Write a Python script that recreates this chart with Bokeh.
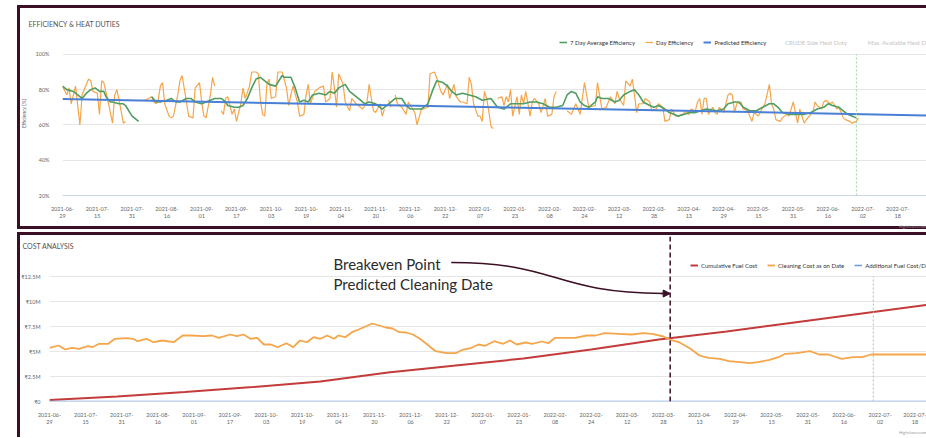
import pandas as pd
from bokeh.plotting import figure
from bokeh.layouts import column
from bokeh.models import (Range1d, FixedTicker, CustomJSTickFormatter, Legend, LegendItem,
                          Label, Title, Span, Arrow, NormalHead)
from bokeh.embed import file_html
from bokeh.resources import INLINE

# ---------------- data ----------------
START = "2021-06-29"
BREAKEVEN = "2022-03-31"
FORECAST = "2022-06-29"
TICK_DATES = ["2021-06-29", "2021-07-15", "2021-07-31", "2021-08-16", "2021-09-01",
              "2021-09-17", "2021-10-03", "2021-10-19", "2021-11-04", "2021-11-20",
              "2021-12-06", "2021-12-22", "2022-01-07", "2022-01-23", "2022-02-08",
              "2022-02-24", "2022-03-12", "2022-03-28", "2022-04-13", "2022-04-29",
              "2022-05-15", "2022-05-31", "2022-06-16", "2022-07-02", "2022-07-18"]
NAN = float("nan")

# day efficiency (days after START, %)
EFF_DAY = [0, 2, 3, 4, 6, 8, 9, 12, 13, 14, 16, 17, 18, 19, 21, 22, 23, 24, 25, 26, 28, 29, 33,
           37, 38, 41, 42, 43, 44, 45, 46, 47, 49, 50, 51, 53, 54, 55, 57, 58, 60, 61, 63, 64, 65,
           66, 68, 69, 70, 71, 73, 74, 75, 76, 78, 79, 80, 82, 83, 84, 86, 87, 89, 90, 91, 92, 93,
           94, 95, 96, 98, 99, 101, 103, 104, 105, 106, 108, 109, 111, 112, 113, 114, 116, 118,
           120, 121, 123, 124, 125, 126, 127, 129, 130, 132, 133, 135, 137, 138, 140, 141, 142,
           143, 144, 146, 147, 148, 149, 150, 151, 152, 153, 154, 156, 158, 159, 161, 162, 163,
           165, 166, 168, 169, 171, 172, 174, 175, 177, 178, 180, 181, 183, 184, 186, 187, 188,
           189, 191, 192, 193, 194, 195, 196, 197, 198, 199, 200, 202, 203, 204, 205, 206, 207,
           209, 210, 211, 212, 213, 215, 216, 217, 219, 220, 222, 223, 225, 226, 227, 229, 232,
           234, 236, 238, 240, 242, 245, 246, 248, 250, 251, 252, 254, 255, 256, 258, 259, 261,
           262, 263, 264, 265, 267, 268, 270, 271, 273, 274, 276, 277, 279, 280, 282, 283, 285,
           286, 288, 289, 291, 292, 293, 294, 295, 296, 297, 299, 300, 301, 302, 304, 306, 307,
           308, 309, 310, 312, 313, 315, 316, 317, 318, 320, 322, 323, 325, 326, 327, 328, 330,
           331, 333, 334, 336, 337, 338, 339, 341, 342, 344, 345, 346, 347, 349, 350, 351, 353,
           354, 356, 357, 359, 360, 362, 363, 365, 366]
EFF_PCT = [82, 77, 81, 72, 82, 60, 77, 86, 85, 79, 78, 66, 85, 84, 73, 67, 61, 77, 80, 74, 61, 62, NAN,
           74, 74, 76, 73, 72, 74, 82, 84, 72, 65, 64, 65, 77, 85, 88, 73, 65, 64, 81, 84, 73, 65,
           64, 77, 87, 82, NAN, 68, 66, 75, 76, 66, 69, 62, 72, 81, 75, 82, 90, 90, 89, 74, 66, 65,
           83, 86, 75, 76, 90, 90, 81, 71, 77, 82, 73, 65, 66, 77, 83, 72, 79, 81,
           82, 73, 75, 90, 81, 70, 89, 83, 73, 68, 75, 72, 70, 69, 73, 83, 75,
           68, 67, 72, 65, 69, NAN, 74, 70, NAN, 77, 72, 70, 66, 73, 69, 67, 60,
           69, 69, 70, 89, 90, 87, 79, 77, 83, 75, 83, 76, 73, 73, 72, 87, 83,
           72, 65, 65, 62, 79, 75, 68, 59, 58, NAN, 75, 76, 71, 76, 73, 80, 65,
           76, 66, 77, 72, 79, 65, 73, 75, 72, 67, 75, 65, 66, 76, 79, NAN, 68,
           66, 72, 66, 84, 70, 71, 84, 69, 70, 73, 76, 72, 79, 75, 71, 85, 82,
           86, 77, 67, 72, 72, 75, 73, 68, 69, 72, 70, 62, 63, 69, 65, 65, 66,
           67, 66, 69, 68, 73, 75, 66, 75, 75, 66, 70, 67, 66, 70, 67, 77, 78,
           77, 67, 72, 73, 69, 68, 65, 62, 67, 65, 70, 72, 83, 72, 69, 63, 62,
           64, 66, 65, 73, 67, 61, 69, 61, 63, 66, 67, 73, 71, 69, 73, 74, 72,
           73, 69, 70, 64, 63, 62, 61, 62, 64]

# 7 day average efficiency
AVG_DAY = [0, 2, 5, 7, 9, 11, 13, 15, 17, 19, 20, 22, 23, 26, 28, 29, 31, 32, 35, 38,
           41, 43, 45, 48, 50, 52, 54, 57, 59, 61, 64, 66, 68, 70, 73, 75, 76, 79, 81, 83, 85,
           87, 89, 91, 92, 95, 98, 101, 102, 105, 107, 109, 111, 113, 115, 118, 121, 123, 125,
           127, 130, 132, 134, 137, 139, 141, 144, 147, 150, 153, 156, 158, 160, 162, 165, 168,
           170, 172, 175, 177, 179, 181, 184, 187, 190, 193, 197, 200, 203, 206, 209, 212, 215,
           218, 221, 224, 227, 230, 232, 234, 236, 238, 240, 242, 245, 246, 248, 251, 254, 256,
           258, 261, 263, 265, 267, 270, 272, 274, 277, 279, 281, 283, 286, 288, 291, 296, 301,
           304, 306, 309, 311, 313, 316, 319, 322, 325, 327, 329, 331, 334, 337, 341, 344, 347,
           350, 352, 354, 357, 359, 361, 363, 365]
AVG_PCT = [82, 80, 79, 77, 75, 78, 80, 81, 79, 79, 76, 73, 73, 72, 72, 71, 67, 65, 62, NAN,
           76, 73, 73, 74, 75, 73, 73, 75, 75, 73, 72, 73, 74, 75, 75, 73, 71, 70, 70, 71, 75,
           81, 86, 87, 86, 83, 82, 88, 87, 87, 81, 73, 74, 73, 77, 78, 77, 79, 78,
           81, 83, 79, 77, 74, 72, 73, 72, 69, 72, 75, 75, 71, 69, 69, 69, 72,
           79, 85, 84, 82, 79, 77, 78, 77, 76, 74, 75, 70, 69, 72, 72, 72, 73,
           73, 72, 70, 70, 71, 77, 79, 78, 73, 71, 70, 73, 76, 75, 75, 73, 74,
           77, 79, 80, 77, 73, 71, 70, 71, 69, 67, 66, 65, 66, 67, 67, 69, 68,
           69, 72, 73, 73, 70, 68, 68, 70, 72, 72, 70, 67, 66, 66, 66, 67, 69,
           70, 72, 71, 70, 68, 66, 65, 64]

PRED_DAY = [0, 400]
PRED_PCT = [74.7, 65.3]

# cost analysis (millions of rupees)
CLEAN_DAY = [0, 4, 7, 10, 13, 17, 19, 22, 26, 29, 34, 37, 39, 43, 46, 50, 55, 59, 63, 68, 72,
             75, 80, 83, 86, 89, 92, 95, 98, 101, 105, 108, 111, 114, 117, 120, 123, 126, 128,
             131, 134, 137, 140, 143, 146, 149, 152, 155, 158, 161, 164, 167, 171, 176, 180,
             183, 187, 190, 193, 197, 201, 204, 207, 211, 214, 218, 221, 224, 227, 233, 238,
             242, 246, 252, 258, 263, 267, 272, 275, 279, 284, 288, 292, 297, 301, 306, 310,
             314, 319, 323, 326, 331, 337, 341, 345, 351, 356, 360, 364, 395]
CLEAN_M = [5.37, 5.6, 5.2, 5.37, 5.27, 5.53, 5.43, 5.77, 5.77, 6.27, 6.33, 6.27, 6.03, 6.27,
           5.93, 6.1, 5.93, 6.6, 6.6, 6.53, 6.6, 6.37, 6.7, 6.53, 6.7, 6.27, 6.37, 5.7, 5.7,
           5.43, 5.83, 5.43, 6.1, 5.93, 6.43, 6.27, 6.6, 6.27, 6.6, 6.43, 6.93, 7.2, 7.5, 7.8,
           7.6, 7.4, 7.3, 6.93, 6.9, 6.7, 6.3, 5.77, 5.03, 4.83, 4.83, 5.17, 5.37, 5.7, 5.57,
           6.03, 5.77, 6.1, 5.7, 5.9, 5.77, 6.0, 5.83, 6.37, 6.37, 6.37, 6.6, 6.6, 6.83, 6.77,
           6.7, 6.83, 6.77, 6.5, 6.17, 5.93, 5.27, 4.6, 4.37, 4.27, 4.03, 3.93, 3.83, 3.93,
           4.17, 4.43, 4.77, 4.83, 5.03, 4.7, 4.7, 4.27, 4.43, 4.43, 4.7, 4.7]
FUEL_DAY = [0, 30, 60, 90, 120, 150, 180, 210, 240, 270, 300, 330, 360, 395]
FUEL_M = [0.15, 0.5, 0.95, 1.45, 2.0, 2.9, 3.6, 4.3, 5.2, 6.2, 7.0, 7.9, 8.8, 9.85]
ADD_DAY = [0, 395]
ADD_M = [0, 0]

EFF_TICKS = [20, 40, 60, 80, 100]
COST_TICKS = [0, 2.5, 5, 7.5, 10, 12.5]

# ---------------- helpers ----------------
T0 = pd.Timestamp(START)
DAY_MS = 86400000


def ms_day(d):
    return (T0 + pd.Timedelta(days=d)).value / 1e6


def ms_date(s):
    return pd.Timestamp(s).value / 1e6


MAROON = "#3b0f25"
GREEN = "#4f9d62"
ORANGE = "#f5a54a"
BLUE = "#4a7fd6"
RED = "#c43b3b"
HIDDEN = "#cfcfcf"
FONT = "Lato"
SH = "inset 3px 0 0 0 {c}, inset 0 3px 0 0 {c}".format(c=MAROON)

date_fmt = CustomJSTickFormatter(code="""
    const s = new Date(tick).toISOString().slice(0, 10);
    return s.slice(0, 8) + "\\n" + s.slice(8);
""")


def style(p, title):
    p.border_fill_color = None
    p.background_fill_color = None
    p.outline_line_color = None
    p.xgrid.grid_line_color = None
    p.ygrid.grid_line_color = "#e6e6e6"
    p.xaxis.ticker = FixedTicker(ticks=[ms_date(s) for s in TICK_DATES])
    p.xaxis.formatter = date_fmt
    p.xaxis.axis_line_color = "#ccd6eb"
    p.xaxis.major_tick_line_color = None
    p.xaxis.minor_tick_line_color = None
    p.xaxis.major_label_text_font_size = "5.5px"
    p.xaxis.major_label_text_color = "#666666"
    p.xaxis.major_label_text_font = FONT
    p.xaxis.major_label_standoff = 4
    p.yaxis.axis_line_color = None
    p.yaxis.major_tick_line_color = None
    p.yaxis.minor_tick_line_color = None
    p.yaxis.major_label_text_font_size = "5.5px"
    p.yaxis.major_label_text_color = "#666666"
    p.yaxis.major_label_text_font = FONT
    p.yaxis.major_label_standoff = 7
    p.title.text = title
    p.title.align = "left"
    p.title.text_font_size = "7px"
    p.title.text_font_style = "normal"
    p.title.text_color = "#555555"
    p.title.text_font = FONT
    p.add_layout(Title(text="Highcharts.com", align="right", text_font_size="4px",
                       text_font_style="normal", text_color="#999999", text_font=FONT,
                       standoff=1), "below")


def make_legend(items, x, y, color="#333333"):
    return Legend(items=items, location=(x, y), orientation="horizontal", spacing=10,
                  padding=0, margin=0, glyph_width=8, glyph_height=6, label_standoff=3,
                  label_height=8, label_text_font_size="6px", label_text_font=FONT,
                  label_text_color=color, background_fill_alpha=0, border_line_color=None)


# ---------------- top chart ----------------
W = 909
p1 = figure(width=W, height=224, output_backend="svg", toolbar_location=None,
            x_axis_type="datetime", min_border_left=39, min_border_right=0,
            min_border_top=26, min_border_bottom=33, margin=(5, 0, 0, 17), frame_align=False,
            styles={"box-shadow": SH + ", inset 0 -3px 0 0 " + MAROON},
            x_range=Range1d(ms_day(0), ms_day(870 / 2.19)),
            y_range=Range1d(20, 100 + 23 / 1.775))
style(p1, "EFFICIENCY & HEAT DUTIES")
p1.title.offset = -34
p1.title.standoff = 7
p1.yaxis.ticker = FixedTicker(ticks=EFF_TICKS)
p1.yaxis.formatter = CustomJSTickFormatter(code="return tick + '%';")
p1.yaxis.axis_label = "Efficiency (%)"
p1.yaxis.axis_label_text_font_size = "5px"
p1.yaxis.axis_label_text_font_style = "normal"
p1.yaxis.axis_label_text_color = "#666666"
p1.yaxis.axis_label_text_font = FONT
p1.yaxis.axis_label_standoff = 6

r_eff = p1.line([ms_day(d) for d in EFF_DAY], EFF_PCT, color=ORANGE, line_width=1.2)
r_avg = p1.line([ms_day(d) for d in AVG_DAY], AVG_PCT, color=GREEN, line_width=1.6)
r_pred = p1.line([ms_day(d) for d in PRED_DAY], PRED_PCT, color=BLUE, line_width=2)
r_crude = p1.line([], [], color=HIDDEN, line_width=1.5)
r_maxh = p1.line([], [], color=HIDDEN, line_width=1.5)
fx = ms_date(FORECAST)
p1.segment(x0=[fx], y0=[EFF_TICKS[0]], x1=[fx], y1=[EFF_TICKS[-1]], line_color="#8fd88f",
           line_dash="2 2", line_width=1)

p1.add_layout(make_legend([LegendItem(label="7 Day Average Efficiency", renderers=[r_avg]),
                           LegendItem(label="Day Efficiency", renderers=[r_eff]),
                           LegendItem(label="Predicted Efficiency", renderers=[r_pred])],
                          497, 149), "center")
p1.add_layout(make_legend([LegendItem(label="CRUDE Side Heat Duty", renderers=[r_crude]),
                           LegendItem(label="Max. Available Heat Duty", renderers=[r_maxh])],
                          712, 149, color="#c4c4c4"), "center")

# ---------------- bottom chart ----------------
p2 = figure(width=W, height=205, output_backend="svg", toolbar_location=None,
            x_axis_type="datetime", min_border_left=32, min_border_right=0,
            min_border_top=4, min_border_bottom=36, margin=(0, 0, 0, 17), frame_align=False,
            styles={"box-shadow": SH},
            x_range=Range1d(ms_day(0), ms_day(877 / 2.257)), y_range=Range1d(0, 16.5))
style(p2, "COST ANALYSIS")
p2.title.offset = -27
p2.title.standoff = -26
p2.yaxis.major_tick_out = 0
p2.yaxis.major_tick_in = 0
p2.yaxis.major_label_standoff = 9
p2.yaxis.ticker = FixedTicker(ticks=COST_TICKS)
p2.yaxis.formatter = CustomJSTickFormatter(code="return tick == 0 ? '\u20b90' : '\u20b9' + tick + 'M';")

r_fuel = p2.line([ms_day(d) for d in FUEL_DAY], FUEL_M, color=RED, line_width=2)
r_clean = p2.line([ms_day(d) for d in CLEAN_DAY], CLEAN_M, color=ORANGE, line_width=1.8)
r_add = p2.line([ms_day(d) for d in ADD_DAY], ADD_M, color="#6a9be8", line_width=1.5)
p2.segment(x0=[fx], y0=[0], x1=[fx], y1=[COST_TICKS[-1]], line_color="#8fd88f",
           line_dash="2 2", line_width=1)
bx = ms_date(BREAKEVEN)
p2.add_layout(Span(location=bx, dimension="height", line_color=MAROON, line_dash="5 3",
                   line_width=1.5))

# annotation arrow pointing at the breakeven line
p2.bezier(x0=[ms_day(178)], y0=[13.9], x1=[bx - 3 * DAY_MS], y1=[10.8],
          cx0=[ms_day(226)], cy0=[13.9], cx1=[ms_day(222)], cy1=[10.9],
          line_color=MAROON, line_width=1.6)
p2.add_layout(Arrow(end=NormalHead(size=7, fill_color=MAROON, line_color=MAROON),
                    x_start=bx - 4 * DAY_MS, y_start=10.8, x_end=bx, y_end=10.8,
                    line_color=MAROON, line_width=1.6))
p2.add_layout(Label(x=316, y=31, x_units="canvas", y_units="canvas", text="Breakeven Point",
                    text_font_size="15px", text_color="#2b2b2b", text_font=FONT,
                    text_baseline="middle"))
p2.add_layout(Label(x=316, y=51, x_units="canvas", y_units="canvas", text="Predicted Cleaning Date",
                    text_font_size="15px", text_color="#2b2b2b", text_font=FONT,
                    text_baseline="middle"))

p2.add_layout(make_legend([LegendItem(label="Cumulative Fuel Cost", renderers=[r_fuel]),
                           LegendItem(label="Cleaning Cost as on Date", renderers=[r_clean]),
                           LegendItem(label="Additional Fuel Cost/Day", renderers=[r_add])],
                          641, 132), "center")

layout = column(p1, p2, spacing=3)
open("out.html", "w").write(file_html(layout, INLINE))
